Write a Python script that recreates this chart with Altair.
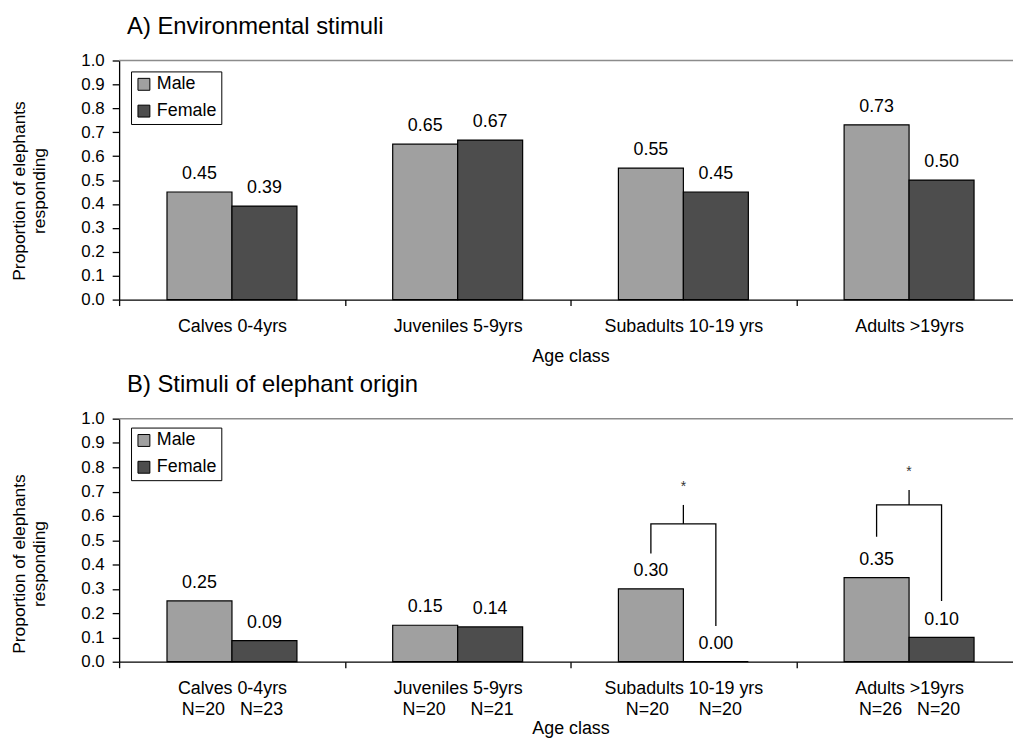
import altair as alt
import pandas as pd

FONT = "Liberation Sans"

categories = ["Calves 0-4yrs", "Juveniles 5-9yrs", "Subadults 10-19 yrs", "Adults >19yrs"]
sexes = ["Male", "Female"]
colors = ["#a0a0a0", "#4d4d4d"]

env_male = [0.45, 0.65, 0.55, 0.731]
env_female = [0.391, 0.667, 0.45, 0.50]

eleph_male = [0.25, 0.15, 0.30, 0.346]
eleph_female = [0.087, 0.143, 0.0, 0.10]

n_male = [20, 20, 20, 26]
n_female = [23, 21, 20, 20]
n_gap = [3, 5, 6, 3]

# significance brackets (panel B)
bracket_id = [0, 0, 0, 0, 1, 1, 1, 1]
bracket_cat = ["Subadults 10-19 yrs"] * 4 + ["Adults >19yrs"] * 4
bracket_sex = ["Male", "Male", "Female", "Female"] * 2
bracket_y = [0.445, 0.567, 0.567, 0.147, 0.514, 0.645, 0.645, 0.25]
stem_cat = ["Subadults 10-19 yrs", "Adults >19yrs"]
stem_low = [0.567, 0.645]
stem_high = [0.645, 0.706]
star_y = [0.718, 0.78]

W = 901          # visible plot width (the picture is cropped at the right)
X_RANGE = 910    # full width of the category axis
Y_TICKS = [0.0, 0.1, 0.2, 0.3, 0.4, 0.5, 0.6, 0.7, 0.8, 0.9, 1.0]


def xdef(label_expr=None, title_y=57):
    kw = dict(
        tickBand="extent", tickSize=6, labelPadding=12, labelAngle=0,
        labelFontSize=18, labelLimit=400, titleFontSize=18, titleY=title_y,
        titleX=X_RANGE / 2, titleBaseline="middle", labelLineHeight=21,
    )
    if label_expr:
        kw["labelExpr"] = label_expr
    return alt.X(
        "cat:N", sort=categories,
        scale=alt.Scale(domain=categories, paddingInner=0, paddingOuter=0,
                        range=[0, X_RANGE]),
        axis=alt.Axis(**kw), title="Age class",
    )


def ydef(field, title_y):
    return alt.Y(
        field, scale=alt.Scale(domain=[0, 1], nice=False),
        axis=alt.Axis(values=Y_TICKS, format=".1f", tickSize=7, labelOverlap=False,
                      labelPadding=8, labelFontSize=17, grid=False, titleFontSize=17.5,
                      titleLineHeight=20, titleX=-100, titleY=title_y,
                      titleBaseline="middle", titleAlign="center"),
        title=["Proportion of elephants", "responding"],
    )


xoff = alt.XOffset("sex:N", sort=sexes,
                   scale=alt.Scale(domain=sexes, paddingOuter=0.737, paddingInner=0))


def panel_layers(male, female, legend_y, ytitle_y, label_expr=None, xtitle_y=57):
    df = pd.DataFrame({
        "cat": categories * 2,
        "sex": ["Male"] * 4 + ["Female"] * 4,
        "val": male + female,
    })
    X = xdef(label_expr, xtitle_y)
    Y = ydef("val:Q", ytitle_y)
    base = alt.Chart(df)
    bars = base.mark_bar(stroke="black", strokeWidth=1.2).encode(
        x=X, xOffset=xoff, y=Y,
        color=alt.Color("sex:N", sort=sexes, scale=alt.Scale(domain=sexes, range=colors),
                        legend=alt.Legend(orient="none", legendX=12, legendY=legend_y,
                                          title=None, strokeColor="black", fillColor="white",
                                          padding=4, symbolType="square", symbolSize=144,
                                          symbolStrokeColor="black", symbolStrokeWidth=1,
                                          labelFontSize=18, rowPadding=9, labelOffset=4)),
    )
    labels = base.mark_text(baseline="bottom", dy=-9, fontSize=18, font=FONT).encode(
        x=X, xOffset=xoff, y=Y, text=alt.Text("val:Q", format=".2f"))
    top_df = pd.DataFrame({"val": [Y_TICKS[-1]]})
    border = alt.Chart(top_df).mark_rule(color="#8c8c8c", strokeWidth=1.5).encode(
        y=ydef("val:Q", ytitle_y))
    return [bars, labels, border], X


layersA, XA = panel_layers(env_male, env_female, 11, 131)
chartA = alt.layer(*layersA).properties(
    width=W, height=241,
    title=alt.Title("A) Environmental stimuli", anchor="start", frame="group", dx=8,
                    offset=13, fontSize=24, fontWeight="normal", font=FONT),
)

label_cases = []
for c, nm, nf, g in zip(categories, n_male, n_female, n_gap):
    second = "N=%d%sN=%d" % (nm, "\u00a0" * g, nf)
    label_cases.append("datum.value == '%s' ? ['%s', '%s']" % (c, c, second))
label_expr = " : ".join(label_cases) + " : datum.value"

layersB, XB = panel_layers(eleph_male, eleph_female, 9, 146,
                           label_expr=label_expr, xtitle_y=67)

bdf = pd.DataFrame({"bid": bracket_id, "cat": bracket_cat, "sex": bracket_sex,
                    "by": bracket_y, "seq": list(range(len(bracket_y)))})
sdf = pd.DataFrame({"cat": stem_cat, "lo": stem_low, "hi": stem_high, "sy": star_y})
brackets = alt.Chart(bdf).mark_line(color="black", strokeWidth=1.3).encode(
    x=XB, xOffset=xoff, y=ydef("by:Q", 146), detail="bid:N", order="seq:Q")
stems = alt.Chart(sdf).mark_rule(color="black", strokeWidth=1.3).encode(
    x=XB, y=ydef("lo:Q", 146), y2="hi:Q")
stars = alt.Chart(sdf).mark_text(text="*", fontSize=14, color="#333333", font=FONT,
                                 baseline="middle").encode(x=XB, y=ydef("sy:Q", 146))

chartB = alt.layer(*layersB, brackets, stems, stars).properties(
    width=W, height=245,
    title=alt.Title("B) Stimuli of elephant origin", anchor="start", frame="group", dx=8,
                    offset=13, fontSize=24, fontWeight="normal", font=FONT),
)

chart = alt.vconcat(chartA, chartB, spacing=120, bounds="flush").resolve_scale(
    color="independent").resolve_legend(color="independent").properties(
    autosize=alt.AutoSizeParams(type="none"),
    padding={"left": 112, "top": 50, "right": 0, "bottom": 684},
).configure(font=FONT).configure_axis(
    labelFont=FONT, titleFont=FONT, labelColor="black", titleColor="black",
    domainColor="black", tickColor="black", domainWidth=1.3, tickWidth=1.3,
    titleFontWeight="normal",
).configure_legend(labelFont=FONT, labelColor="black").configure_view(strokeWidth=0)

chart.save("out.html", embed_options={"renderer": "svg", "actions": False})
